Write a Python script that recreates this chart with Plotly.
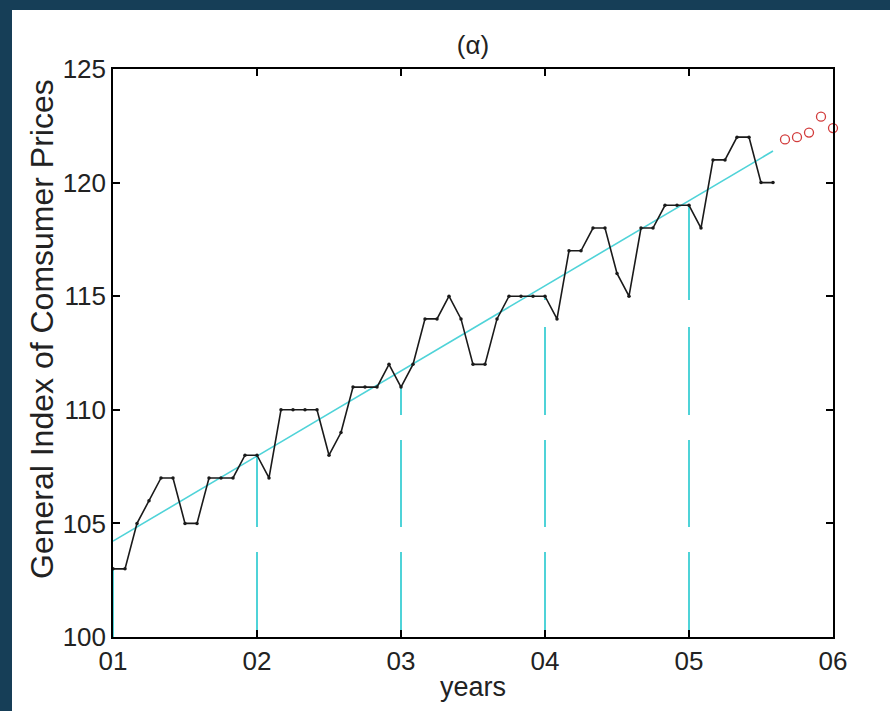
import numpy as np
import plotly.graph_objects as go

# Monthly general index of consumer prices, Jan 2001 - Aug 2005
cpi_2001 = [103, 103, 105, 106, 107, 107, 105, 105, 107, 107, 107, 108]
cpi_2002 = [108, 107, 110, 110, 110, 110, 108, 109, 111, 111, 111, 112]
cpi_2003 = [111, 112, 114, 114, 115, 114, 112, 112, 114, 115, 115, 115]
cpi_2004 = [115, 114, 117, 117, 118, 118, 116, 115, 118, 118, 119, 119]
cpi_2005 = [119, 118, 121, 121, 122, 122, 120, 120]

# Forecast values, Sep 2005 - Jan 2006
forecast = [121.9, 122.0, 122.2, 122.9, 122.4]

year_labels = ["01", "02", "03", "04", "05", "06"]

observed = cpi_2001 + cpi_2002 + cpi_2003 + cpi_2004 + cpi_2005
months = np.arange(len(observed))
fc_months = np.arange(len(observed), len(observed) + len(forecast))
year_ticks = [12 * i for i in range(len(year_labels))]

# Linear trend fitted to the observed series
slope, intercept = np.polyfit(months, observed, 1)
trend = intercept + slope * months

CYAN = "#4fd3d8"
FONT = "Liberation Sans, Arial, sans-serif"

fig = go.Figure()

# Dashed markers from the axis up to each January value
for m in year_ticks[:-1]:
    fig.add_trace(go.Scatter(
        x=[m, m], y=[100, observed[m]], mode="lines",
        line=dict(color=CYAN, width=2,
                  dash="85px,25px,87px,25px,88px,27px,120px,25px"),
        hoverinfo="skip", showlegend=False))

fig.add_trace(go.Scatter(
    x=months, y=trend, mode="lines",
    line=dict(color=CYAN, width=1.6), showlegend=False))

fig.add_trace(go.Scatter(
    x=months, y=observed, mode="lines+markers",
    line=dict(color="#1a1a1a", width=1.6),
    marker=dict(color="#1a1a1a", size=3.5), showlegend=False))

fig.add_trace(go.Scatter(
    x=fc_months, y=forecast, mode="markers", cliponaxis=False,
    marker=dict(symbol="circle-open", color="#d23c3c", size=9,
                line=dict(width=1.3)), showlegend=False))

L, R, T, B = 113, 57, 69, 74
W, H = 890, 711
pw, ph = W - L - R, H - T - B

def px(X):
    return (X - L) / pw

def py(Y):
    return (H - B - Y) / ph

frame = "#163e57"
shapes = [
    dict(type="rect", xref="paper", yref="paper", x0=px(-5), x1=px(12),
         y0=py(H + 5), y1=py(-5), fillcolor=frame, line=dict(width=0), layer="below"),
    dict(type="rect", xref="paper", yref="paper", x0=px(-5), x1=px(W + 5),
         y0=py(10), y1=py(-5), fillcolor=frame, line=dict(width=0), layer="below"),
]

fig.add_annotation(
    text="General Index of Comsumer Prices", textangle=-90,
    xref="paper", yref="paper", x=px(42), y=py(329),
    xanchor="center", yanchor="middle", showarrow=False,
    font=dict(size=32, family=FONT, color="#222222"))

fig.update_layout(
    width=W, height=H,
    margin=dict(l=L, r=R, t=T, b=B),
    paper_bgcolor="white", plot_bgcolor="white",
    font=dict(family=FONT, color="#222222", size=26),
    shapes=shapes,
    title=dict(text="(α)", x=px(473), xref="paper", xanchor="center",
               y=1 - 45 / H, yanchor="middle", font=dict(size=26)),
    xaxis=dict(range=[0, 60], tickvals=year_ticks, ticktext=year_labels,
               ticks="inside", ticklen=7, tickwidth=1.5, tickcolor="black",
               showline=True, linecolor="black", linewidth=1.5, mirror="ticks",
               showgrid=False, zeroline=False, tickfont=dict(size=26),
               title=dict(text="years", standoff=2, font=dict(size=27))),
    yaxis=dict(range=[100, 125], tickvals=[100, 105, 110, 115, 120, 125],
               ticks="inside", ticklen=7, tickwidth=1.5, tickcolor="black",
               showline=True, linecolor="black", linewidth=1.5, mirror="ticks",
               showgrid=False, zeroline=False, tickfont=dict(size=26)),
)

fig.write_html("out.html")
